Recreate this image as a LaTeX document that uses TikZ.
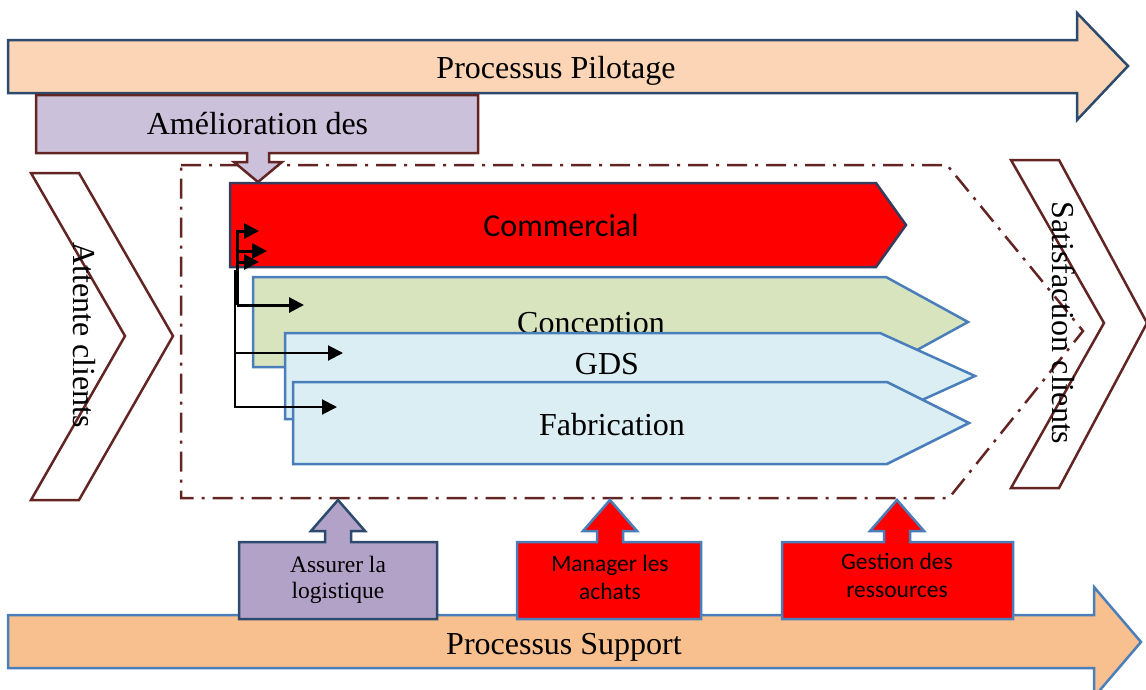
\documentclass[tikz,border=0pt]{standalone}
\usepackage{fontspec}
\setmainfont{Liberation Serif}
\newfontfamily\calibrifont{Carlito}
\usetikzlibrary{arrows.meta}

\definecolor{peachfill}{HTML}{FBD5B5}
\definecolor{orangefill}{HTML}{F9C08F}
\definecolor{navyline}{HTML}{2C4A6E}
\definecolor{steelline}{HTML}{4A7EBB}
\definecolor{maroonline}{HTML}{632523}
\definecolor{lilacfill}{HTML}{CCC1DA}
\definecolor{purplefill}{HTML}{B3A2C7}
\definecolor{greenfill}{HTML}{D7E4BD}
\definecolor{bluefill}{HTML}{DBEEF4}
\definecolor{commline}{HTML}{353C5E}

\tikzset{
  outline/.style={line width=2.5pt, line join=miter},
  frameline/.style={draw=maroonline, line width=2.5pt,
    dash pattern=on 20pt off 8pt on 3pt off 8pt},
  bigtext/.style={font=\fontsize{32}{38}\selectfont, inner sep=0pt, anchor=base},
  bigsans/.style={font=\calibrifont\fontsize{32}{38}\selectfont, inner sep=0pt, anchor=base},
  smalltext/.style={font=\fontsize{23.5}{27}\selectfont, inner sep=0pt, anchor=base},
  smallsans/.style={font=\calibrifont\fontsize{23.5}{27}\selectfont, inner sep=0pt, anchor=base},
  link/.style={-{Triangle[length=15pt,width=15pt]}, line width=3pt},
  thinlink/.style={-{Triangle[length=15pt,width=15pt]}, line width=2pt},
}

\begin{document}
\begin{tikzpicture}[x=1pt,y=-1pt]
\useasboundingbox (0,0) rectangle (1146,689);

% pilot process arrow
\draw[outline, draw=navyline, fill=peachfill]
  (8,40) -- (1077,40) -- (1077,13) -- (1128,66) -- (1077,120) -- (1077,93) -- (8,93) -- cycle;
\node[bigtext] (pilot) at (556,78) {Processus Pilotage};

% dash-dot boundary of the core processes
\draw[frameline] (181,165) -- (947,165) -- (1083,331) -- (949,498) -- (181,498) -- cycle;

% improvement callout
\draw[outline, draw=maroonline, fill=lilacfill]
  (36,95) -- (478,95) -- (478,153) -- (269,153) -- (269,162) -- (282,162) -- (258,182)
  -- (234,162) -- (247,162) -- (247,153) -- (36,153) -- cycle;
\node[bigtext] (amel) at (257.5,134) {Amélioration des};

% customer chevrons
\draw[outline, draw=maroonline]
  (31,173) -- (79,173) -- (173,336) -- (79,500) -- (31,500) -- (125,336) -- cycle;
\node[bigtext, rotate=-90] (attente) at (73,335) {Attente clients};
\draw[outline, draw=maroonline]
  (1011,160) -- (1059,160) -- (1147,323) -- (1059,488) -- (1011,488) -- (1104,323) -- cycle;
\node[bigtext, rotate=-90] (satisf) at (1052,323) {Satisfaction clients};

% core processes
\draw[outline, draw=commline, fill=red]
  (230,183) -- (876,183) -- (906,225) -- (876,267) -- (230,267) -- cycle;
\node[bigsans] (commercial) at (561,236) {Commercial};

\draw[outline, draw=steelline, fill=greenfill]
  (253,277) -- (886,277) -- (968,322) -- (886,367) -- (253,367) -- cycle;
\node[bigtext] (conception) at (591,333) {Conception};

\draw[outline, draw=steelline, fill=bluefill]
  (285,333) -- (880,333) -- (975,376) -- (880,419) -- (285,419) -- cycle;
\node[bigtext] (gds) at (607,374) {GDS};

\draw[outline, draw=steelline, fill=bluefill]
  (293,382) -- (887,382) -- (969,423) -- (887,464) -- (293,464) -- cycle;
\node[bigtext] (fabrication) at (612,435) {Fabrication};

% flow links into the processes
\coordinate (jtop) at (237,231);
\coordinate (jmid) at (237,305);
\coordinate (jb) at (237,251);
\coordinate (jc) at (237,262);
\coordinate (jthin) at (235,270);
\coordinate (je) at (235,353);
\coordinate (jlow) at (235,407);
\coordinate (ta) at (259,231);
\coordinate (tb) at (267,251);
\coordinate (tc) at (259,262);
\coordinate (td) at (304,305);
\coordinate (te) at (343,353);
\coordinate (tf) at (337,407);
\draw[thinlink] (jthin) -- (jlow) -- (tf);
\draw[thinlink] (je) -- (te);
\draw[link] (jmid) -- (jtop) -- (ta);
\draw[link] (jb) -- (tb);
\draw[link] (jc) -- (tc);
\draw[link] (jmid) -- (td);

% support process arrow
\draw[outline, draw=steelline, fill=orangefill]
  (8,615) -- (1094,615) -- (1094,587) -- (1141,642) -- (1094,697) -- (1094,668) -- (8,668) -- cycle;
\node[bigtext] (support) at (564,654) {Processus Support};

% support activities
\draw[outline, draw=navyline, fill=purplefill]
  (239,542) -- (325,542) -- (325,531) -- (311,531) -- (338,500) -- (365,531) -- (351,531)
  -- (351,542) -- (437,542) -- (437,619) -- (239,619) -- cycle;
\node[smalltext] (log1) at (338,572) {Assurer la};
\node[smalltext] (log2) at (338,598) {logistique};

\draw[outline, draw=steelline, fill=red]
  (517,542) -- (597,542) -- (597,531) -- (583,531) -- (610,500) -- (637,531) -- (623,531)
  -- (623,542) -- (701,542) -- (701,619) -- (517,619) -- cycle;
\node[smallsans] (ach1) at (610,571) {Manager les};
\node[smallsans] (ach2) at (610,599) {achats};

\draw[outline, draw=steelline, fill=red]
  (782,542) -- (884,542) -- (884,531) -- (870,531) -- (897,500) -- (924,531) -- (910,531)
  -- (910,542) -- (1013,542) -- (1013,619) -- (782,619) -- cycle;
\node[smallsans] (res1) at (897,569) {Gestion des};
\node[smallsans] (res2) at (897,597) {ressources};
\end{tikzpicture}
\end{document}
